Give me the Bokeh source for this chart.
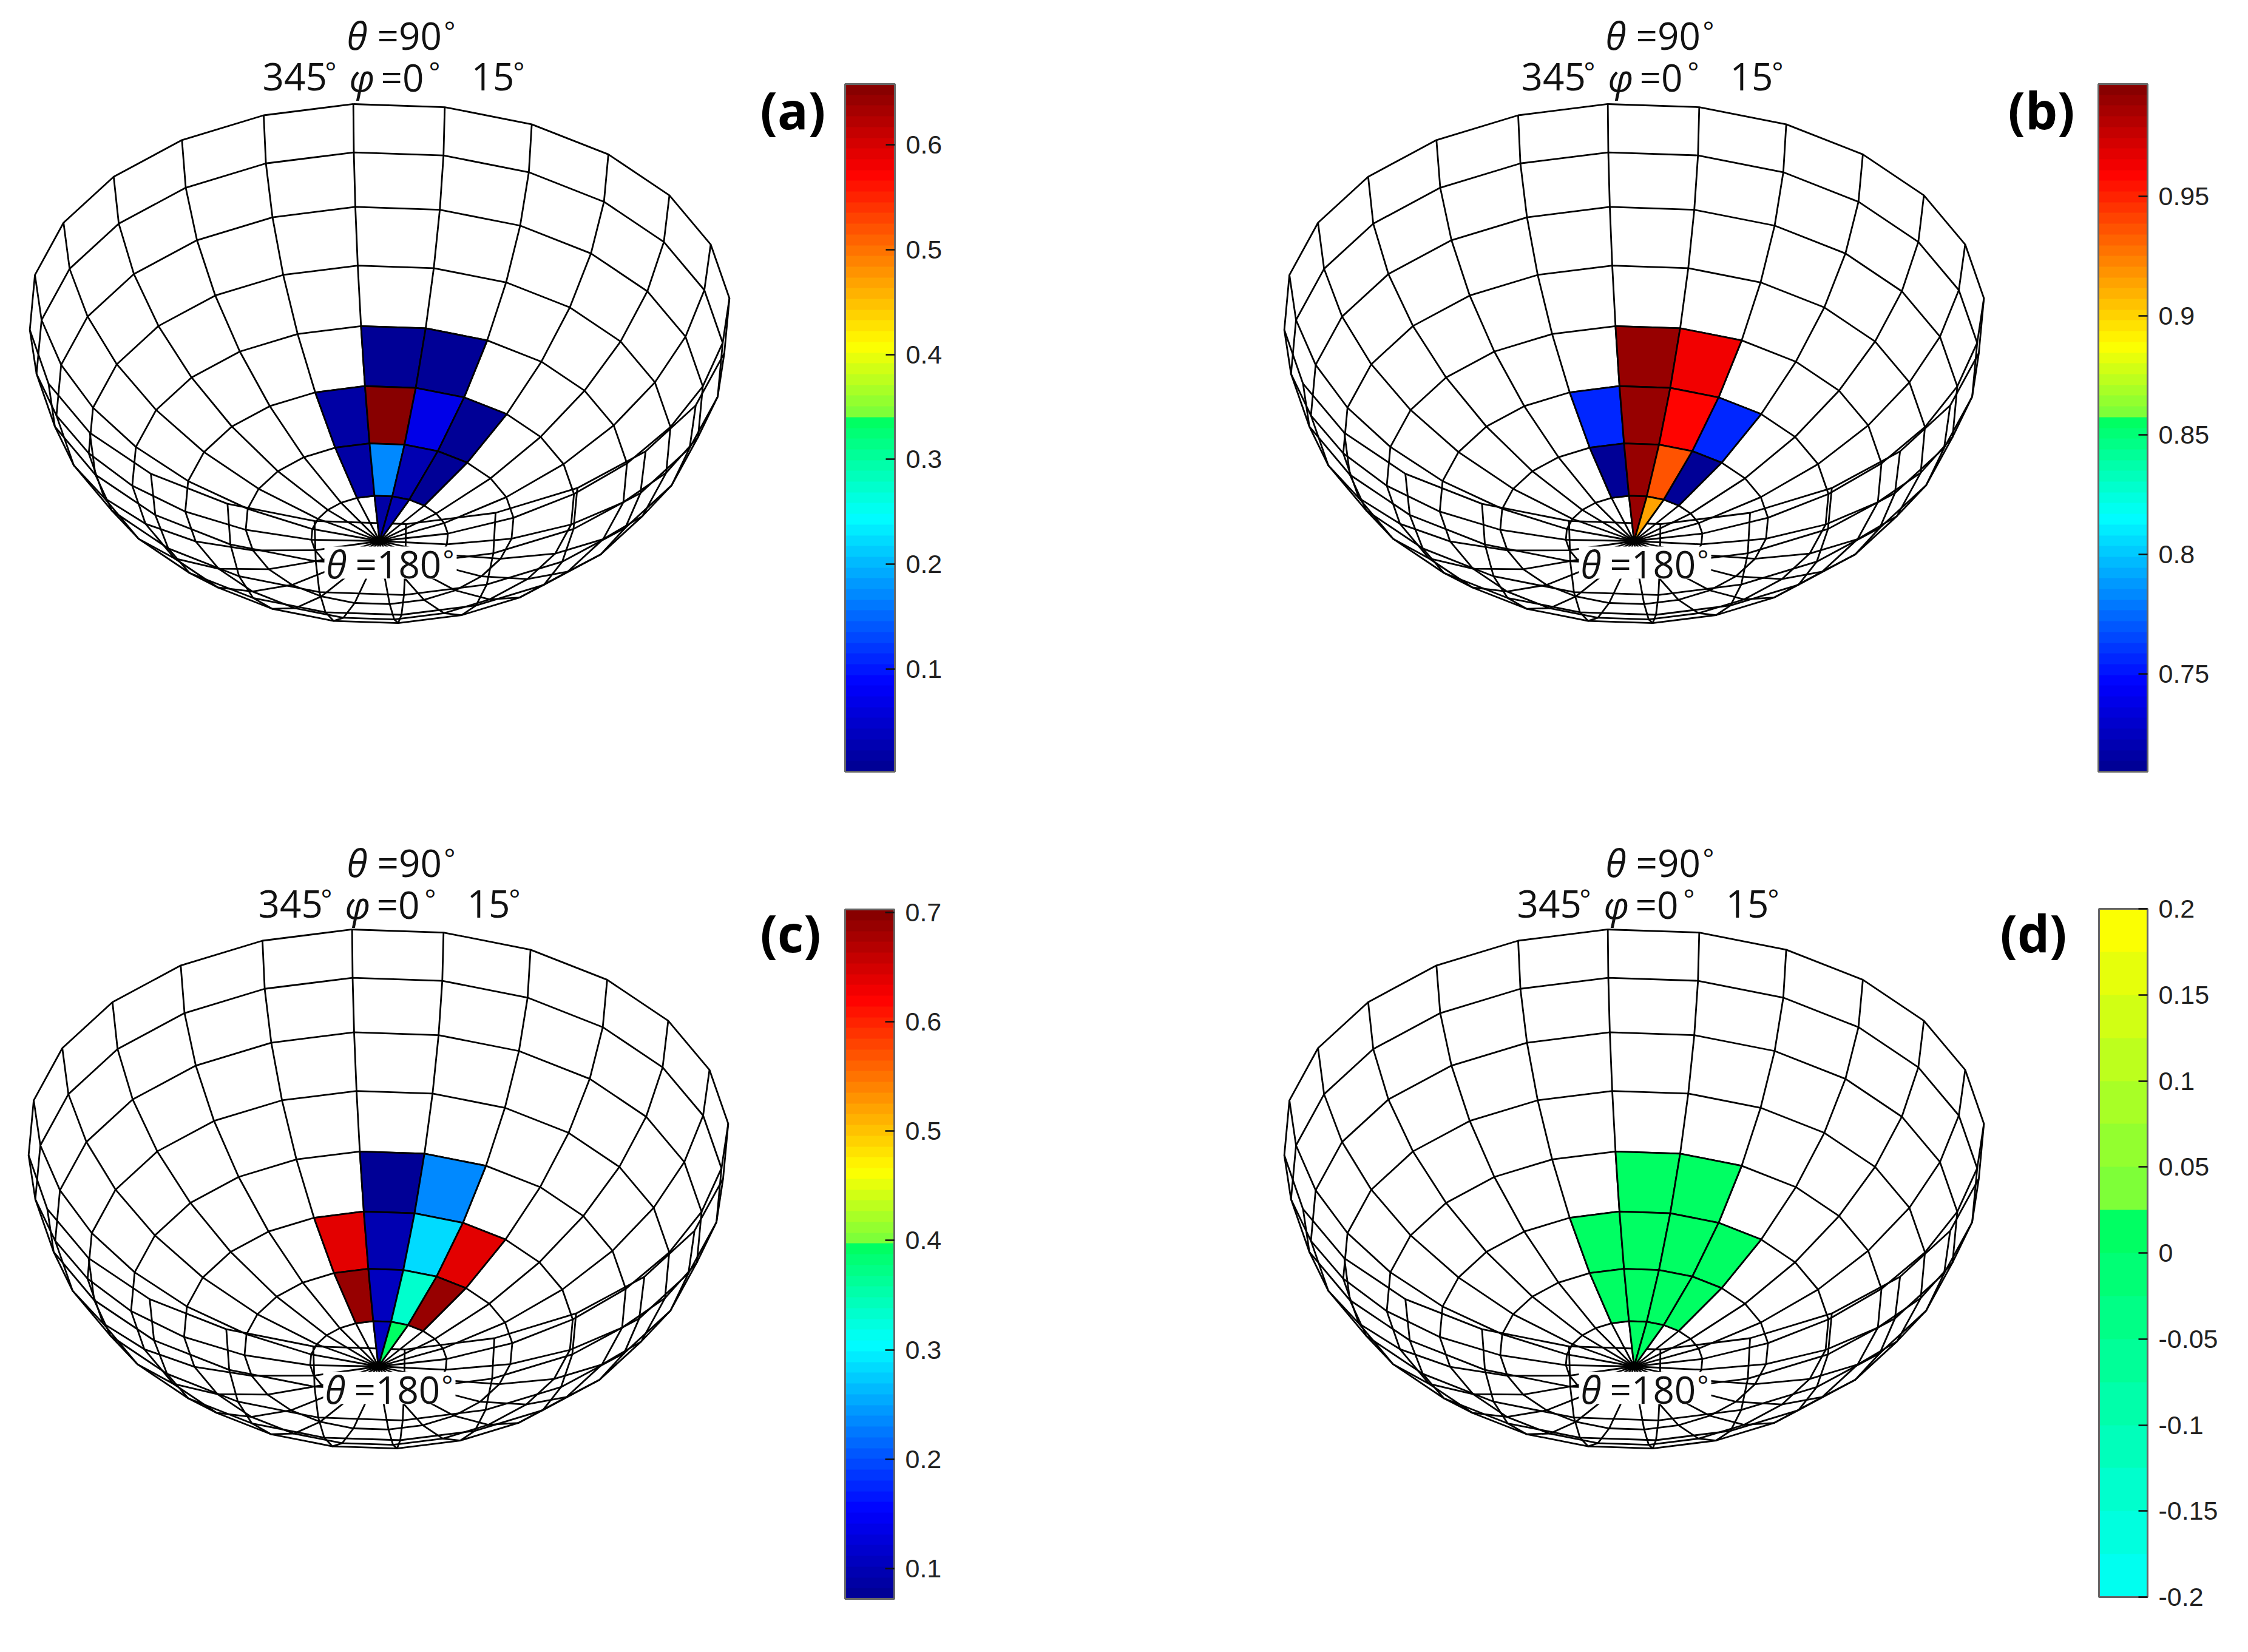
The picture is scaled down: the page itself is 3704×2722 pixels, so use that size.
import numpy as np
from bokeh.plotting import figure
from bokeh.models import ColumnDataSource, ColorBar, FixedTicker, LinearColorMapper, CustomJSTickFormatter
from bokeh.core.properties import value
from bokeh.embed import file_html
from bokeh.resources import INLINE

# ---- data: polar rows (theta bands) x azimuth columns ----
theta_step = 11.25
phi_step = 15
phi_view = -4.3                # grid line left of phi=0 cell appears at this azimuth
cells_row = [3, 3, 2, 2, 2, 2, 1, 1, 1, 1, 0, 0]   # band index counted from the pole
cells_col = [0, 1, -1, 0, 1, 2, -1, 0, 1, 2, 0, 1] # phi index, units of 15 degrees
values_a = [0.010, 0.010, 0.015, 0.655, 0.065, 0.010, 0.020, 0.175, 0.030, 0.012, 0.015, 0.025]
values_b = [0.992, 0.964, 0.755, 0.992, 0.957, 0.755, 0.713, 0.992, 0.936, 0.713, 0.990, 0.912]
values_c = [0.073, 0.238, 0.641, 0.096, 0.286, 0.641, 0.687, 0.107, 0.337, 0.687, 0.110, 0.394]
values_d = [0.0] * 12
ranges = {"a": (0.002, 0.658), "b": (0.709, 0.997), "c": (0.072, 0.703), "d": (-0.2, 0.2)}
ticks = {
    "a": [0.1, 0.2, 0.3, 0.4, 0.5, 0.6],
    "b": [0.75, 0.8, 0.85, 0.9, 0.95],
    "c": [0.1, 0.2, 0.3, 0.4, 0.5, 0.6, 0.7],
    "d": [-0.2, -0.15, -0.1, -0.05, 0, 0.05, 0.1, 0.15, 0.2],
}

# ---- palette ----
anchor_pos = [0, .128, .37, .514, .516, .62, .745, .87, 1]
anchor_rgb = [(0, 0, 0x8f), (0, 0, 255), (0, 255, 255), (0, 255, 0x5c), (0x74, 255, 0x3c),
              (255, 255, 0), (255, 128, 0), (255, 0, 0), (0x80, 0, 0)]
lev = (np.arange(64) + .5) / 64
jet = ["#%02x%02x%02x" % tuple(int(round(np.interp(t, anchor_pos, [c[i] for c in anchor_rgb]))) for i in range(3))
       for t in lev]
palettes = {"a": jet, "b": jet, "c": jet, "d": jet[24:40]}

# ---- layout in reference pixels ----
W, H = 3704, 2722
PW, PH = W - 16, H - 16
R, KY, KZ = 578, 347, 374
CX, CY = 625, 517
hemi_off = {"a": (0, 0), "b": (2067, 0), "c": (-2, 1360), "d": (2067, 1360)}
bars = {"a": (1392, 1474, 138, 1271), "b": (3457, 3538, 138, 1271),
        "c": (1392, 1473, 1498, 2634), "d": (3458, 3538, 1497, 2631)}
line1_off = {"a": (0, 0), "b": (2074, 0), "c": (0, 1363), "d": (2074, 1363)}
line2_off = {"a": (0, 0), "b": (2074, 0), "c": (-7, 1363), "d": (2067, 1363)}
low_off = {"a": (0, 0), "b": (2067, 0), "c": (-2, 1360), "d": (2067, 1360)}
tag_pos = {"a": (1252, 209), "b": (3308, 209), "c": (1252, 1565), "d": (3295, 1565)}
series = {"a": values_a, "b": values_b, "c": values_c, "d": values_d}


def project(alpha, phi, off):
    a, f = np.radians(alpha), np.radians(phi)
    s, d = np.sin(a), np.cos(a)
    return CX + off[0] + R * s * np.sin(f), CY + off[1] - KY * s * np.cos(f) + KZ * d


p = figure(width=PW, height=PH, x_range=(0, PW), y_range=(PH, 0),
           output_backend="svg", toolbar_location=None, min_border=0)
p.axis.visible = False
p.grid.visible = False
p.outline_line_color = None
p.background_fill_color = "white"
p.border_fill_color = "white"


def put(x, y, txt, size, style="normal", font="Open Sans", color="#111111"):
    p.text([x], [y - 0.35 * size], text=[txt], text_font=value(font), text_font_size=value(f"{size}px"),
           text_font_style=style, text_color=color, text_baseline="alphabetic", text_align="left")


for k in "abcd":
    off = hemi_off[k]
    # wireframe
    xs, ys = [], []
    for i in range(1, 9):
        f = np.append(np.arange(0, 360, phi_step), 360) + phi_view
        x, y = project(i * theta_step * np.ones_like(f), f, off)
        xs.append(x.tolist()); ys.append(y.tolist())
    for j in range(24):
        al = np.arange(0, 9) * theta_step
        x, y = project(al, (phi_view + j * phi_step) * np.ones_like(al), off)
        xs.append(x.tolist()); ys.append(y.tolist())
    p.multi_line(xs, ys, line_color="#000000", line_width=2.8)

    # coloured cells
    mapper = LinearColorMapper(palette=palettes[k], low=ranges[k][0], high=ranges[k][1])
    px, py = [], []
    for r, c in zip(cells_row, cells_col):
        al = np.array([r, r, r + 1, r + 1]) * theta_step
        ff = phi_view + np.array([c, c + 1, c + 1, c]) * phi_step
        x, y = project(al, ff, off)
        px.append(x.tolist()); py.append(y.tolist())
    src = ColumnDataSource(dict(xs=px, ys=py, v=series[k]))
    p.patches("xs", "ys", source=src, fill_color={"field": "v", "transform": mapper},
              line_color="#000000", line_width=2.8)
    px0, py0 = project(np.array([0.0]), np.array([0.0]), off)
    p.ellipse(px0, py0, width=32, height=12, fill_color="black", line_color=None)

    # colour bar
    x0, x1, y0, y1 = bars[k]
    cb = ColorBar(color_mapper=mapper, ticker=FixedTicker(ticks=ticks[k]),
                  formatter=CustomJSTickFormatter(code="return String(Math.round(tick*100)/100)"),
                  location=(x0, PH - y1), width=x1 - x0, height=y1 - y0, padding=0, margin=0,
                  major_tick_in=15, major_tick_out=0, major_tick_line_color="#111111", major_tick_line_width=2.5,
                  minor_tick_line_color=None, bar_line_color="#666666", bar_line_width=3,
                  major_label_text_font="Liberation Sans", major_label_text_font_size="43px",
                  major_label_text_color="#222222", label_standoff=18,
                  background_fill_color=None, border_line_color=None)
    p.add_layout(cb, "center")

    # labels
    ox, oy = line1_off[k]
    put(571 + ox, 79 + oy, "\u03b8", 62, "italic")
    put(621 + ox, 79 + oy, "=90", 62)
    put(731 + ox, 65 + oy, "\u00b0", 44)
    ox, oy = line2_off[k]
    put(432 + ox, 148 + oy, "345", 62)
    put(535 + ox, 132 + oy, "\u00b0", 44)
    put(575 + ox, 148 + oy, "\u03c6", 62, "italic")
    put(627 + ox, 148 + oy, "=0", 62)
    put(706 + ox, 132 + oy, "\u00b0", 44)
    put(776 + ox, 148 + oy, "15", 62)
    put(845 + ox, 132 + oy, "\u00b0", 44)
    ox, oy = low_off[k]
    p.quad(left=[534 + ox], right=[752 + ox], top=[900 + oy], bottom=[953 + oy],
           fill_color="white", line_color=None)
    put(537 + ox, 950 + oy, "\u03b8", 62, "italic")
    put(585 + ox, 950 + oy, "=180", 62)
    put(729 + ox, 936 + oy, "\u00b0", 44)
    tx, ty = tag_pos[k]
    put(tx, ty, f"({k})", 84, "bold", color="#000000")

open("out.html", "w").write(file_html(p, INLINE))
